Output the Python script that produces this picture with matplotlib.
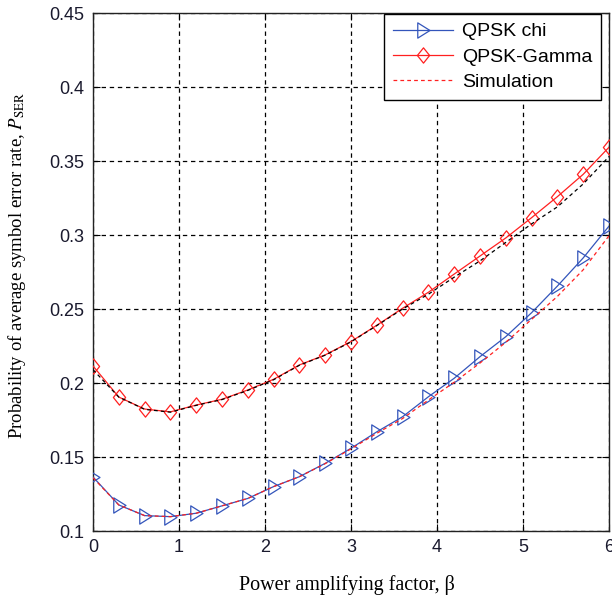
import matplotlib
matplotlib.use("Agg")
import matplotlib.pyplot as plt
from matplotlib.lines import Line2D
from matplotlib.path import Path

plt.rcParams['mathtext.fontset'] = 'stix'

beta = [0.0, 0.3, 0.6, 0.9, 1.2, 1.5, 1.8, 2.1, 2.4, 2.7, 3.0,
        3.3, 3.6, 3.9, 4.2, 4.5, 4.8, 5.1, 5.4, 5.7, 6.0]
chi = [0.1365, 0.1176, 0.1104, 0.1097, 0.1120, 0.1170, 0.1220, 0.1300, 0.1367, 0.1457, 0.1559,
       0.1670, 0.1772, 0.1907, 0.2032, 0.2178, 0.2313, 0.2475, 0.2655, 0.2845, 0.3060]
gamma = [0.2115, 0.1905, 0.1824, 0.1805, 0.1851, 0.1890, 0.1953, 0.2025, 0.2122, 0.2190, 0.2280,
         0.2390, 0.2505, 0.2613, 0.2736, 0.2858, 0.2980, 0.3117, 0.3259, 0.3410, 0.3593]
chi_sim = [0.1360, 0.1176, 0.1104, 0.1097, 0.1120, 0.1170, 0.1220, 0.1300, 0.1367, 0.1455, 0.1555,
           0.1660, 0.1760, 0.1885, 0.2005, 0.2135, 0.2275, 0.2430, 0.2585, 0.2765, 0.2995]
gamma_sim = [0.2090, 0.1905, 0.1822, 0.1803, 0.1849, 0.1888, 0.1950, 0.2022, 0.2120, 0.2188, 0.2278,
             0.2388, 0.2500, 0.2600, 0.2715, 0.2825, 0.2950, 0.3075, 0.3190, 0.3345, 0.3530]

xticks = [0, 1, 2, 3, 4, 5, 6]
yticks = [0.1, 0.15, 0.2, 0.25, 0.3, 0.35, 0.4, 0.45]
ytick_labels = ["0.1", "0.15", "0.2", "0.25", "0.3", "0.35", "0.4", "0.45"]

blue = '#3355bb'
red = '#ff2020'

tri = Path([(-0.75, 1.0), (0.85, 0.0), (-0.75, -1.0), (-0.75, 1.0)],
           [Path.MOVETO, Path.LINETO, Path.LINETO, Path.CLOSEPOLY])
dia = Path([(0, 1.0), (0.8, 0.0), (0, -1.0), (-0.8, 0.0), (0, 1.0)],
           [Path.MOVETO, Path.LINETO, Path.LINETO, Path.LINETO, Path.CLOSEPOLY])

fig = plt.figure(figsize=(6.12, 6.01), dpi=100)
ax = fig.add_axes([93/612, 70/601, (609-93)/612, (531-13)/601])

ax.plot(beta, chi, color=blue, lw=0.9, marker=tri, ms=11, mfc='none', mec=blue, mew=0.9, zorder=3)
ax.plot(beta, gamma, color=red, lw=0.9, marker=dia, ms=11, mfc='none', mec=red, mew=0.9, zorder=3)
ax.plot(beta, chi_sim, color=red, lw=0.9, ls=(0, (3, 2.5)), zorder=4)
ax.plot(beta, gamma_sim, color='black', lw=0.9, ls=(0, (3, 2.5)), zorder=4)

ax.set_xlim(0, 6)
ax.set_ylim(0.1, 0.45)
ax.set_xticks(xticks)
ax.set_xticklabels([str(v) for v in xticks])
ax.set_yticks(yticks)
ax.set_yticklabels(ytick_labels)
ax.tick_params(direction='in', length=5, width=0.8, top=True, right=True,
               labelsize=13, colors='black', pad=6)
for lab in ax.get_xticklabels() + ax.get_yticklabels():
    lab.set_fontfamily('Liberation Sans')
    lab.set_color('#1a1a2e')
ax.grid(True, color='black', ls=(0, (3.5, 3)), lw=0.9)
for sp in ax.spines.values():
    sp.set_linewidth(1.0)
    sp.set_color('#222222')

ax.set_xlabel('Power amplifying factor, β', fontfamily='Liberation Serif', fontsize=14.5)
ax.set_ylabel(r'Probability of average symbol error rate, $P_{\mathrm{SER}}$',
              fontfamily='Liberation Serif', fontsize=13.5)
ax.xaxis.label.set_va('center')
ax.yaxis.label.set_va('center')
ax.xaxis.set_label_coords((347 - 93) / 516, (531 - 585) / 518)
ax.yaxis.set_label_coords((17 - 93) / 516, (531 - 265) / 518)

handles = [
    Line2D([], [], color=blue, lw=0.9, marker=tri, ms=11, mfc='none', mec=blue, mew=0.9),
    Line2D([], [], color=red, lw=0.9, marker=dia, ms=11, mfc='none', mec=red, mew=0.9),
    Line2D([], [], color=red, lw=0.9, ls=(0, (3, 2.5))),
]
leg = ax.legend(handles, ['QPSK chi', 'QPSK-Gamma', 'Simulation'],
                loc='upper right', bbox_to_anchor=(0.985, 0.998), borderaxespad=0,
                prop={'family': 'Liberation Sans', 'size': 14},
                fancybox=False, framealpha=1, edgecolor='black',
                handlelength=3.1, handletextpad=0.45, labelspacing=0.4, borderpad=0.45)
leg.get_frame().set_linewidth(1.0)

fig.savefig('out.png', dpi=100)
